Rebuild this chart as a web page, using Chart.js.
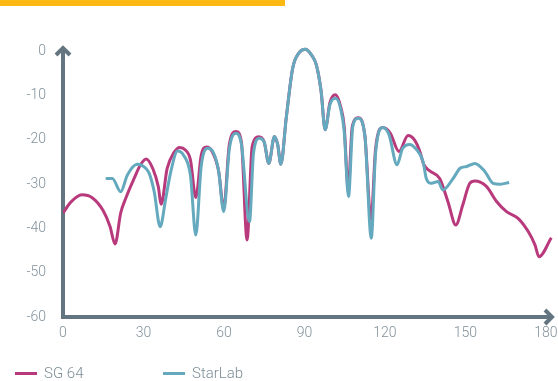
<!DOCTYPE html>
<html>
<head>
<meta charset="utf-8">
<script src="https://cdn.jsdelivr.net/npm/chart.js@4"></script>
<style>
  body { margin: 0; background: #fff; }
  .wrap { position: relative; width: 558px; height: 381px; overflow: hidden; }
  .topbar { position: absolute; left: 0; top: 0; width: 285px; height: 6px; background: #fdb913; }
  .legend { position: absolute; top: 363px; left: 15px; font-family: Roboto, "Open Sans", sans-serif; font-weight: 300; font-size: 15px; color: #7c8d97; }
  .legend span { position: absolute; white-space: nowrap; line-height: 20px; }
  .legend i { position: absolute; top: 9px; width: 22px; height: 3px; }
</style>
</head>
<body>
<div class="wrap">
  <canvas id="chart" width="558" height="381"></canvas>
  <div class="topbar"></div>
  <div class="legend" id="legend"></div>
</div>
<script>
const xTicks = [0, 30, 60, 90, 120, 150, 180];
const yTicks = [0, -10, -20, -30, -40, -50, -60];

const sgAngles = [0, 3, 7, 11, 15, 17.5, 19.4, 21.5, 23.5, 26.5, 29, 31, 33.5, 35.5, 36.6, 38.8, 41.4, 43.5, 45.5, 47.5,
  49.5, 51.5, 53.5, 55.5, 58, 59.9, 62, 64.5, 66.5, 68.6, 70.5, 73, 75, 76.7, 78.8, 80, 81.2, 83.2, 85.6, 88,
  90.3, 92.5, 94.4, 96.2, 97.7, 99.5, 101.5, 103.5, 104.8, 106.3, 107.8, 110, 112.5, 114.8, 116.5, 119.2, 122, 125.2, 128.6, 131,
  133, 134.5, 136.7, 140.4, 143.5, 146.4, 149, 151.6, 153.5, 157.8, 161.6, 165.3, 169.6, 173.4, 175.9, 177.4, 182];
const sgValues = [-36.5, -34, -32.4, -33.1, -36, -39.5, -43.5, -36.5, -33, -28.7, -25.5, -24.3, -26.5, -30.5, -34.5, -26.5, -22.8, -21.7, -22.2, -24.5,
  -33, -23.5, -21.6, -22.5, -27, -35.5, -21, -18.1, -20.5, -42.6, -21.5, -19.3, -20.5, -25.3, -19.3, -21, -25.5, -15, -3.8, -0.3,
  0.5, -0.7, -3, -9, -17.7, -11.5, -9.8, -12.5, -17, -31, -17, -15, -19, -38, -22, -17.2, -18.5, -22.6, -19, -20,
  -22.6, -25.6, -27, -28.7, -34, -39.2, -34.7, -29.8, -29.3, -30.5, -33.9, -36.2, -37.7, -40.7, -43.7, -46.4, -42.1];

const starAngles = [15.9, 18.4, 21.5, 24, 27.7, 30.5, 32.1, 34, 36.2, 38.3, 40.2, 42.7, 45, 47.5, 49.5, 51.5, 53.9, 56, 58, 59.9,
  62, 64.5, 66.5, 69.5, 71, 73.2, 75, 76.7, 78.8, 80, 81.2, 83.2, 85.6, 88, 90.3, 92.5, 94.4, 96.2, 97.7, 99.5,
  101.6, 103.5, 104.8, 106.4, 108, 110, 112.5, 114.9, 116.5, 119.2, 121.5, 124.5, 126.5, 129.2, 131.5, 134.2, 135.4, 137.3, 139.8, 141.6,
  145.4, 148, 150.4, 153.5, 157.2, 160.3, 163, 166.3];
const starValues = [-28.7, -28.7, -31.7, -27.9, -25.5, -26.2, -27.5, -31.7, -39.6, -33.2, -27.1, -22.5, -23.5, -28, -41.5, -26, -21.9, -22.8, -27, -36.2,
  -22, -18.5, -21, -38.5, -23, -19.6, -20.5, -25.3, -19.2, -21, -25.5, -15.1, -3.8, -0.3, 0.5, -0.7, -3, -9, -17.7, -12,
  -10.6, -13, -18, -32.8, -17, -15.1, -19, -42.2, -23, -17.2, -18.8, -25.6, -22, -21, -22, -24.9, -28.7, -29.8, -29.4, -31.3,
  -28.7, -26.4, -26, -25.3, -27.1, -29.8, -30, -29.6];

const seriesNames = ["SG 64", "StarLab"];
const seriesColors = ["#b83a7c", "#64a9be"];

const axisColor = "#627580";
const labelColor = "#82929c";

function toPoints(xs, ys) {
  return xs.map((x, i) => ({ x: x, y: ys[i] }));
}

// no auto padding for edge labels, the chart area is fixed by hand
function noPad(s) {
  s.paddingLeft = 0;
  s.paddingRight = 0;
  s.paddingTop = 0;
  s.paddingBottom = 0;
}

const arrowAxes = {
  id: "arrowAxes",
  beforeDatasetsDraw(chart) {
    const { ctx, scales: { x, y } } = chart;
    const x0 = x.getPixelForValue(0);
    const xEnd = x.right - 1;
    const y0 = y.getPixelForValue(-60);
    const yTop = y.top;
    ctx.save();
    ctx.strokeStyle = axisColor;
    ctx.lineWidth = 4;
    ctx.lineCap = "butt";
    ctx.beginPath();
    ctx.moveTo(x0, yTop + 2);
    ctx.lineTo(x0, y0);
    ctx.lineTo(xEnd - 2, y0);
    ctx.stroke();
    ctx.lineJoin = "miter";
    ctx.beginPath();
    ctx.moveTo(x0 - 7, yTop + 8);
    ctx.lineTo(x0, yTop + 1);
    ctx.lineTo(x0 + 7, yTop + 8);
    ctx.stroke();
    ctx.beginPath();
    ctx.moveTo(xEnd - 8, y0 - 7);
    ctx.lineTo(xEnd - 1, y0);
    ctx.lineTo(xEnd - 8, y0 + 7);
    ctx.stroke();
    ctx.restore();
  },
};

const tickFont = { family: "Roboto, 'Open Sans', sans-serif", size: 14, weight: 300 };

new Chart(document.getElementById("chart"), {
  type: "line",
  data: {
    datasets: [
      {
        label: seriesNames[0],
        data: toPoints(sgAngles, sgValues),
        borderColor: seriesColors[0],
        order: 1,
      },
      {
        label: seriesNames[1],
        data: toPoints(starAngles, starValues),
        borderColor: seriesColors[1],
        order: 0,
      },
    ],
  },
  options: {
    responsive: false,
    animation: false,
    layout: { padding: { left: 0, right: 4, top: 47, bottom: 0 } },
    elements: {
      point: { radius: 0 },
      line: { borderWidth: 3, cubicInterpolationMode: "monotone", fill: false },
    },
    plugins: { legend: { display: false }, tooltip: { enabled: false } },
    scales: {
      x: {
        type: "linear",
        min: 0,
        max: 183,
        afterFit: (s) => { s.height = 64; noPad(s); },
        afterBuildTicks: (s) => { s.ticks = xTicks.map((v) => ({ value: v })); },
        grid: { display: false, drawTicks: false },
        border: { display: false },
        ticks: { color: labelColor, font: tickFont, padding: 8, maxRotation: 0 },
      },
      y: {
        min: -60,
        max: 1,
        afterFit: (s) => { s.width = 63; noPad(s); },
        afterBuildTicks: (s) => { s.ticks = yTicks.map((v) => ({ value: v })); },
        grid: { display: false, drawTicks: false },
        border: { display: false },
        ticks: { color: labelColor, font: tickFont, padding: 17 },
      },
    },
  },
  plugins: [arrowAxes],
});

const legend = document.getElementById("legend");
const legendOffsets = [0, 148];
seriesNames.forEach((name, i) => {
  const sw = document.createElement("i");
  sw.style.left = legendOffsets[i] + "px";
  sw.style.background = seriesColors[i];
  const label = document.createElement("span");
  label.style.left = legendOffsets[i] + 29 + "px";
  label.textContent = name;
  legend.appendChild(sw);
  legend.appendChild(label);
});
</script>
</body>
</html>
